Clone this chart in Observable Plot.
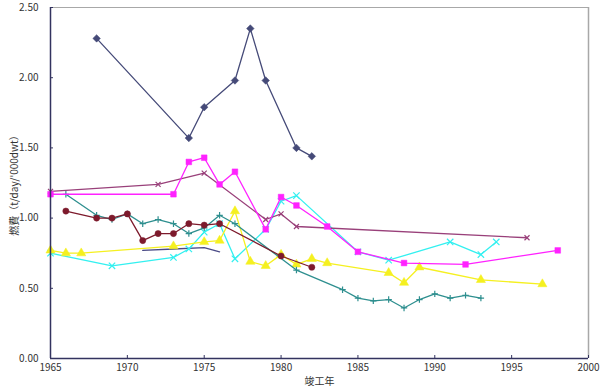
<!DOCTYPE html>
<html>
<head>
<meta charset="utf-8">
<script src="https://cdn.jsdelivr.net/npm/d3@7"></script>
<script src="https://cdn.jsdelivr.net/npm/@observablehq/plot@0.6"></script>
<style>
  html, body { margin: 0; padding: 0; background: #fff; }
  #chart svg { display: block; }
</style>
</head>
<body>
<div id="chart"></div>
<script>
// ---- data ----
const xTicks = [1965, 1970, 1975, 1980, 1985, 1990, 1995, 2000];
const yTicks = [0, 0.5, 1.0, 1.5, 2.0, 2.5];
const xLabel = "竣工年";
const yLabel = "燃費（t/day/'000dwt）";

const navyYears  = [1968, 1974, 1975, 1977, 1978, 1979, 1981, 1982];
const navyValues = [2.28, 1.57, 1.79, 1.98, 2.35, 1.98, 1.50, 1.44];

const navy2Years  = [1971, 1973, 1975, 1976];
const navy2Values = [0.77, 0.78, 0.79, 0.76];

const magentaYears  = [1965, 1973, 1974, 1975, 1976, 1977, 1979, 1980, 1981, 1983, 1985, 1988, 1992, 1998];
const magentaValues = [1.17, 1.17, 1.40, 1.43, 1.24, 1.33, 0.92, 1.15, 1.09, 0.94, 0.76, 0.68, 0.67, 0.77];

const purpleYears  = [1965, 1972, 1975, 1979, 1980, 1981, 1996];
const purpleValues = [1.19, 1.24, 1.32, 0.99, 1.03, 0.94, 0.86];

const darkredYears  = [1966, 1968, 1969, 1970, 1971, 1972, 1973, 1974, 1975, 1976, 1980, 1982];
const darkredValues = [1.05, 1.00, 1.00, 1.03, 0.84, 0.89, 0.89, 0.96, 0.95, 0.96, 0.73, 0.65];

const tealYears  = [1966, 1968, 1969, 1970, 1971, 1972, 1973, 1974, 1975, 1976, 1977, 1981, 1984, 1985, 1986, 1987, 1988, 1989, 1990, 1991, 1992, 1993];
const tealValues = [1.17, 1.02, 0.99, 1.03, 0.96, 0.99, 0.96, 0.89, 0.93, 1.02, 0.96, 0.63, 0.49, 0.43, 0.41, 0.42, 0.36, 0.42, 0.46, 0.43, 0.45, 0.43];

const yellowYears  = [1965, 1966, 1967, 1973, 1975, 1976, 1977, 1978, 1979, 1980, 1981, 1982, 1983, 1987, 1988, 1989, 1993, 1997];
const yellowValues = [0.77, 0.75, 0.75, 0.80, 0.83, 0.84, 1.05, 0.69, 0.66, 0.74, 0.67, 0.71, 0.68, 0.61, 0.54, 0.65, 0.56, 0.53];

const cyanYears  = [1965, 1969, 1973, 1974, 1975, 1976, 1977, 1979, 1980, 1981, 1985, 1987, 1991, 1993, 1994];
const cyanValues = [0.75, 0.66, 0.72, 0.78, 0.90, 0.96, 0.71, 0.92, 1.12, 1.16, 0.76, 0.70, 0.83, 0.74, 0.83];

// ---- build tables ----
const zip = (xs, ys) => xs.map((x, i) => ({x, y: ys[i]}));
const series = [
  {data: zip(navy2Years, navy2Values),     color: "#4a4a86", symbol: null,       filled: true,  r: 0,   rotate: 0},
  {data: zip(cyanYears, cyanValues),       color: "#33f0f0", symbol: "times",    filled: false, r: 3.0, rotate: 0},
  {data: zip(yellowYears, yellowValues),   color: "#f5f020", symbol: "triangle", filled: true,  r: 3.4, rotate: 0},
  {data: zip(tealYears, tealValues),       color: "#2e8f8f", symbol: "plus",     filled: false, r: 2.2, rotate: 0},
  {data: zip(darkredYears, darkredValues), color: "#7d1a2c", symbol: "circle",   filled: true,  r: 3.1, rotate: 0},
  {data: zip(purpleYears, purpleValues),   color: "#99407a", symbol: "times",    filled: false, r: 2.4, rotate: 0},
  {data: zip(magentaYears, magentaValues), color: "#ff22ff", symbol: "square",   filled: true,  r: 3.2, rotate: 0},
  {data: zip(navyYears, navyValues),       color: "#454a78", symbol: "square",   filled: true,  r: 3.0, rotate: 45}
];

const marks = [];
// frame: light top/right, dark left/bottom
marks.push(Plot.ruleY([2.5], {stroke: "#a8a8a8", strokeWidth: 1.2}));
marks.push(Plot.ruleX([2000], {stroke: "#a8a8a8", strokeWidth: 1.5}));

for (const s of series) {
  marks.push(Plot.line(s.data, {x: "x", y: "y", stroke: s.color, strokeWidth: 1.3}));
  if (s.symbol) {
    marks.push(Plot.dot(s.data, s.filled
      ? {x: "x", y: "y", symbol: s.symbol, r: s.r, rotate: s.rotate, fill: s.color, stroke: s.color, strokeWidth: 0.5}
      : {x: "x", y: "y", symbol: s.symbol, r: s.r, rotate: s.rotate, stroke: s.color, strokeWidth: 1.2}));
  }
}

marks.push(Plot.ruleX([1965], {stroke: "#33335f", strokeWidth: 1.5}));
marks.push(Plot.ruleY([0], {stroke: "#33335f", strokeWidth: 1.5}));

// axes: labels and inward tick marks
marks.push(Plot.axisY(yTicks, {anchor: "left", tickSize: 0, tickPadding: 12,
  tickFormat: d3.format(".2f"), label: yLabel, labelAnchor: "center", labelArrow: "none",
  labelOffset: 40, fontSize: 10}));
marks.push(Plot.axisY(yTicks, {anchor: "left", tickSize: 3, dx: 3, text: null, label: null, stroke: "#33335f"}));
marks.push(Plot.axisX(xTicks, {anchor: "bottom", tickSize: 0, tickPadding: 5,
  tickFormat: d => String(d), label: xLabel, labelAnchor: "center", labelArrow: "none",
  labelOffset: 26, fontSize: 10}));
marks.push(Plot.axisX(xTicks, {anchor: "bottom", tickSize: 3, dy: -3, text: null, label: null, stroke: "#33335f"}));

const chart = Plot.plot({
  width: 600,
  height: 388,
  marginLeft: 50,
  marginRight: 12,
  marginTop: 7,
  marginBottom: 30,
  style: {fontFamily: "'Noto Sans CJK JP', 'DejaVu Sans', sans-serif", fontSize: "10px", color: "#333", background: "#fff", overflow: "visible"},
  x: {domain: [1965, 2000]},
  y: {domain: [0, 2.5]},
  marks
});
document.getElementById("chart").appendChild(chart);
</script>
</body>
</html>
